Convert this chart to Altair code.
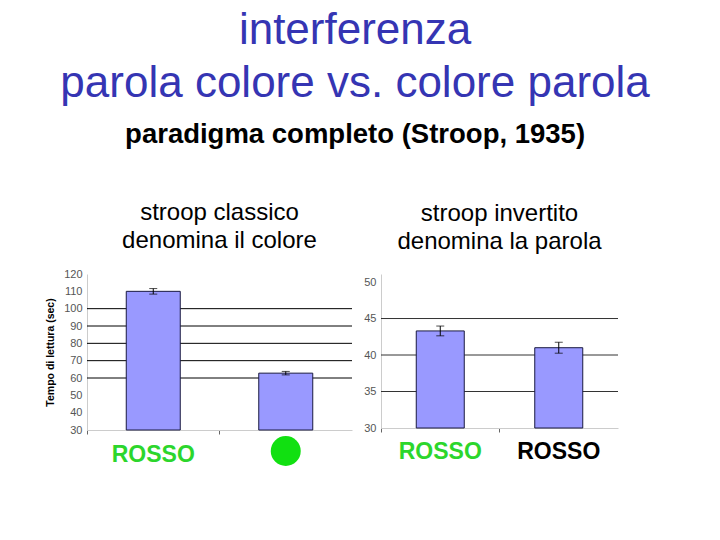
import altair as alt
import pandas as pd

FONT = "Liberation Sans"

# ---- left panel: stroop classico (denomina il colore)
left_ids = ["parola", "colore"]
left_means = [110.0, 62.8]
left_errs = [1.6, 1.0]
left_labels = ["ROSSO", ""]
left_label_colors = ["#2cd62c", "#2cd62c"]
left_dots = [False, True]
left_ticks = [30, 40, 50, 60, 70, 80, 90, 100, 110, 120]
left_grid = [60, 70, 80, 90, 100]
left_domain = [30, 120]

# ---- right panel: stroop invertito (denomina la parola)
right_ids = ["parola", "colore"]
right_means = [43.3, 41.0]
right_errs = [0.67, 0.75]
right_labels = ["ROSSO", "ROSSO"]
right_label_colors = ["#2cd62c", "#000000"]
right_dots = [False, False]
right_ticks = [30, 35, 40, 45, 50]
right_grid = [35, 40, 45]
right_domain = [30, 51.1]


def panel(ids, means, errs, labels, label_colors, dots, ticks, grid, domain,
          width, height, bar_size, title, ytitle, title_offset, grid_color,
          label_dy):
    df = pd.DataFrame({
        "cat": ids, "mean": means,
        "lo": [m - e for m, e in zip(means, errs)],
        "hi": [m + e for m, e in zip(means, errs)],
        "label": labels, "lcolor": label_colors, "dot": dots,
    })
    gdf = pd.DataFrame({"g": grid})
    yscale = alt.Scale(domain=domain, nice=False, zero=False)
    xscale = alt.Scale(domain=ids, paddingInner=0, paddingOuter=0)
    xaxis = alt.Axis(labels=False, title=None, bandPosition=0,
                     tickSize=4, tickColor="#666", domainColor="#cccccc")
    xenc = alt.X("cat:N", sort=ids, scale=xscale, axis=xaxis)
    yaxis = alt.Axis(values=ticks, grid=False, ticks=False, domainColor="#cccccc",
                     labelColor="#555555", labelFontSize=11, labelPadding=5,
                     labelOverlap=False, labelFlush=False,
                     title=ytitle if ytitle else None, titleFontSize=10.5,
                     titleFontWeight="bold", titleColor="#000000", titlePadding=8)

    def Y(field):
        return alt.Y(field, scale=yscale, axis=yaxis)

    base = alt.Chart(df)
    gridrules = alt.Chart(gdf).mark_rule(color=grid_color, strokeWidth=1).encode(
        x=alt.value(0), x2=alt.value(width), y=Y("g:Q"))
    bars = base.mark_bar(size=bar_size, color="#9999ff", stroke="#1a1a40",
                         strokeWidth=1).encode(
        x=xenc, y=Y("mean:Q"), y2=alt.datum(domain[0]))
    ebar = base.mark_rule(color="#000000", strokeWidth=1).encode(
        x=xenc, y=Y("lo:Q"), y2="hi:Q")
    cap_lo = base.mark_tick(color="#000000", size=8, thickness=1,
                            orient="horizontal").encode(x=xenc, y=Y("lo:Q"))
    cap_hi = base.mark_tick(color="#000000", size=8, thickness=1,
                            orient="horizontal").encode(x=xenc, y=Y("hi:Q"))
    texts = base.mark_text(font=FONT, fontSize=23, fontWeight="bold",
                           baseline="middle").encode(
        x=xenc, y=alt.value(height + label_dy), text="label:N",
        color=alt.Color("lcolor:N", scale=None))
    dot = base.transform_filter("datum.dot").mark_point(
        filled=True, shape="circle", size=900, color="#11e011", opacity=1).encode(
        x=xenc, y=alt.value(height + label_dy - 4))
    return alt.layer(gridrules, bars, ebar, cap_lo, cap_hi, texts, dot).properties(
        width=width, height=height,
        title=alt.TitleParams(text=title, fontSize=24, font=FONT,
                              fontWeight="normal", color="#000000",
                              lineHeight=28, offset=title_offset, anchor="middle"))


left = panel(left_ids, left_means, left_errs, left_labels, left_label_colors,
             left_dots, left_ticks, left_grid, left_domain,
             265, 156, 54, ["stroop classico", "denomina il colore"],
             "Tempo di lettura (sec)", 15, "#000000", 25)
right = panel(right_ids, right_means, right_errs, right_labels, right_label_colors,
              right_dots, right_ticks, right_grid, right_domain,
              237, 154, 48, ["stroop invertito", "denomina la parola"],
              None, 20, "#333333", 24)

chart = alt.hconcat(left, right, spacing=10).properties(
    padding={"left": 37, "top": 0, "right": 5, "bottom": 5},
    title=alt.TitleParams(
        text=["interferenza", "parola colore vs. colore parola"],
        subtitle="paradigma completo (Stroop, 1935)",
        font=FONT, fontSize=44, fontWeight="normal", color="#3535b3",
        lineHeight=53, subtitleFont=FONT, subtitleFontSize=27.5,
        subtitleFontWeight="bold", subtitleColor="#000000",
        subtitlePadding=15, subtitleLineHeight=30,
        anchor="middle", dx=23, offset=53),
).configure(font=FONT).configure_view(stroke=None)

chart.save("out.html", embed_options={"renderer": "svg", "actions": False})
